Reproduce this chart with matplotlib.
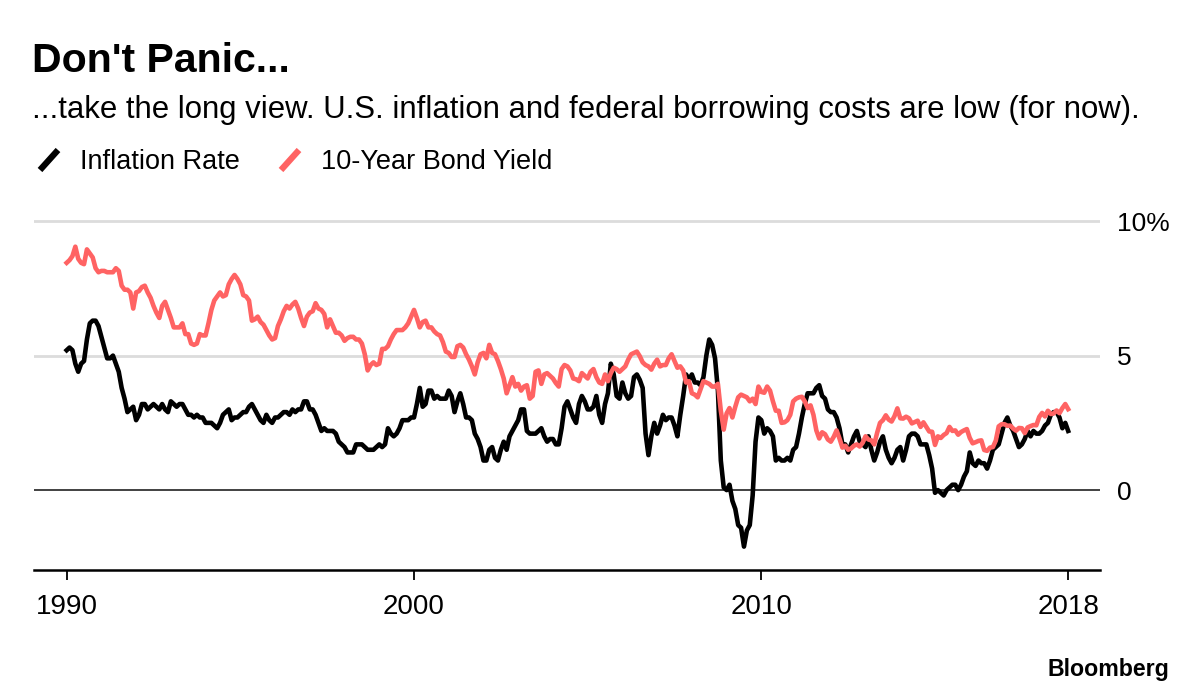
import matplotlib

matplotlib.use("Agg")
import matplotlib.pyplot as plt
import numpy as np
from matplotlib.lines import Line2D

plt.rcParams["font.family"] = ["Liberation Sans", "DejaVu Sans"]

# Monthly values, Jan 1990 .. Nov 2018 (one row per year)
inflation_rate = [
    5.2, 5.3, 5.2, 4.7, 4.4, 4.7, 4.8, 5.6, 6.2, 6.3, 6.3, 6.1,
    5.7, 5.3, 4.9, 4.9, 5.0, 4.7, 4.4, 3.8, 3.4, 2.9, 3.0, 3.1,
    2.6, 2.8, 3.2, 3.2, 3.0, 3.1, 3.2, 3.1, 3.0, 3.2, 3.0, 2.9,
    3.3, 3.2, 3.1, 3.2, 3.2, 3.0, 2.8, 2.8, 2.7, 2.8, 2.7, 2.7,
    2.5, 2.5, 2.5, 2.4, 2.3, 2.5, 2.8, 2.9, 3.0, 2.6, 2.7, 2.7,
    2.8, 2.9, 2.9, 3.1, 3.2, 3.0, 2.8, 2.6, 2.5, 2.8, 2.6, 2.5,
    2.7, 2.7, 2.8, 2.9, 2.9, 2.8, 3.0, 2.9, 3.0, 3.0, 3.3, 3.3,
    3.0, 3.0, 2.8, 2.5, 2.2, 2.3, 2.2, 2.2, 2.2, 2.1, 1.8, 1.7,
    1.6, 1.4, 1.4, 1.4, 1.7, 1.7, 1.7, 1.6, 1.5, 1.5, 1.5, 1.6,
    1.7, 1.6, 1.7, 2.3, 2.1, 2.0, 2.1, 2.3, 2.6, 2.6, 2.6, 2.7,
    2.7, 3.2, 3.8, 3.1, 3.2, 3.7, 3.7, 3.4, 3.5, 3.4, 3.4, 3.4,
    3.7, 3.5, 2.9, 3.3, 3.6, 3.2, 2.7, 2.7, 2.6, 2.1, 1.9, 1.6,
    1.1, 1.1, 1.5, 1.6, 1.2, 1.1, 1.5, 1.8, 1.5, 2.0, 2.2, 2.4,
    2.6, 3.0, 3.0, 2.2, 2.1, 2.1, 2.1, 2.2, 2.3, 2.0, 1.8, 1.9,
    1.9, 1.7, 1.7, 2.3, 3.1, 3.3, 3.0, 2.7, 2.5, 3.2, 3.5, 3.3,
    3.0, 3.0, 3.1, 3.5, 2.8, 2.5, 3.2, 3.6, 4.7, 4.3, 3.5, 3.4,
    4.0, 3.6, 3.4, 3.5, 4.2, 4.3, 4.1, 3.8, 2.1, 1.3, 2.0, 2.5,
    2.1, 2.4, 2.8, 2.6, 2.7, 2.7, 2.4, 2.0, 2.8, 3.5, 4.3, 4.1,
    4.3, 4.0, 4.0, 3.9, 4.2, 5.0, 5.6, 5.4, 4.9, 3.7, 1.1, 0.1,
    0.0, 0.2, -0.4, -0.7, -1.3, -1.4, -2.1, -1.5, -1.3, -0.2, 1.8, 2.7,
    2.6, 2.1, 2.3, 2.2, 2.0, 1.1, 1.2, 1.1, 1.1, 1.2, 1.1, 1.5,
    1.6, 2.1, 2.7, 3.2, 3.6, 3.6, 3.6, 3.8, 3.9, 3.5, 3.4, 3.0,
    2.9, 2.9, 2.7, 2.3, 1.7, 1.7, 1.4, 1.7, 2.0, 2.2, 1.8, 1.7,
    1.6, 2.0, 1.5, 1.1, 1.4, 1.8, 2.0, 1.5, 1.2, 1.0, 1.2, 1.5,
    1.6, 1.1, 1.5, 2.0, 2.1, 2.1, 2.0, 1.7, 1.7, 1.7, 1.3, 0.8,
    -0.1, 0.0, -0.1, -0.2, 0.0, 0.1, 0.2, 0.2, 0.0, 0.2, 0.5, 0.7,
    1.4, 1.0, 0.9, 1.1, 1.0, 1.0, 0.8, 1.1, 1.5, 1.6, 1.7, 2.1,
    2.5, 2.7, 2.4, 2.2, 1.9, 1.6, 1.7, 1.9, 2.2, 2.0, 2.2, 2.1,
    2.1, 2.2, 2.4, 2.5, 2.8, 2.9, 2.9, 2.7, 2.3, 2.5, 2.2,
]

bond_yield = [
    8.45, 8.55, 8.70, 9.05, 8.60, 8.45, 8.40, 8.95, 8.80, 8.65, 8.25, 8.10,
    8.15, 8.15, 8.10, 8.10, 8.10, 8.25, 8.15, 7.60, 7.45, 7.45, 7.35, 6.75,
    7.35, 7.40, 7.55, 7.60, 7.35, 7.15, 6.85, 6.60, 6.40, 6.85, 7.00, 6.70,
    6.40, 6.05, 6.05, 6.05, 6.20, 5.80, 5.80, 5.45, 5.40, 5.45, 5.80, 5.75,
    5.75, 6.20, 6.70, 7.05, 7.20, 7.35, 7.20, 7.25, 7.65, 7.85, 8.00, 7.85,
    7.65, 7.25, 7.20, 7.05, 6.30, 6.35, 6.45, 6.25, 6.15, 5.95, 5.75, 5.60,
    5.65, 6.10, 6.35, 6.65, 6.85, 6.75, 6.90, 7.00, 6.75, 6.40, 6.10, 6.45,
    6.60, 6.65, 6.95, 6.75, 6.70, 6.55, 6.05, 6.35, 6.10, 5.85, 5.85, 5.75,
    5.55, 5.65, 5.70, 5.70, 5.60, 5.60, 5.45, 5.05, 4.45, 4.65, 4.75, 4.65,
    4.70, 5.25, 5.25, 5.35, 5.60, 5.80, 5.95, 5.95, 5.95, 6.05, 6.20, 6.45,
    6.70, 6.40, 6.05, 6.25, 6.30, 6.05, 6.05, 5.90, 5.80, 5.75, 5.50, 5.15,
    5.10, 4.95, 4.95, 5.35, 5.40, 5.30, 5.05, 4.85, 4.60, 4.30, 4.75, 5.05,
    5.10, 4.90, 5.40, 5.10, 5.05, 4.80, 4.50, 4.15, 3.60, 3.90, 4.20, 3.85,
    3.95, 3.70, 3.85, 3.90, 3.40, 3.50, 4.40, 4.45, 3.95, 4.30, 4.35, 4.25,
    4.15, 3.98, 3.85, 4.50, 4.65, 4.60, 4.45, 4.15, 4.12, 4.05, 4.35, 4.25,
    4.15, 4.40, 4.50, 4.20, 4.00, 3.95, 4.30, 4.05, 4.35, 4.55, 4.50, 4.40,
    4.50, 4.60, 4.85, 5.05, 5.10, 5.15, 4.98, 4.75, 4.65, 4.60, 4.48, 4.70,
    4.85, 4.60, 4.65, 4.65, 4.90, 5.05, 4.80, 4.55, 4.60, 4.45, 4.00, 4.05,
    3.60, 3.55, 3.45, 3.75, 4.05, 4.00, 3.95, 3.85, 3.85, 3.95, 2.95, 2.25,
    2.85, 3.05, 2.70, 3.10, 3.45, 3.55, 3.50, 3.45, 3.30, 3.40, 3.20, 3.85,
    3.65, 3.62, 3.85, 3.70, 3.30, 2.95, 2.95, 2.50, 2.52, 2.60, 2.80, 3.30,
    3.40, 3.45, 3.47, 3.30, 3.05, 3.15, 2.80, 2.22, 1.92, 2.15, 2.08, 1.88,
    1.80, 1.98, 2.22, 1.92, 1.58, 1.65, 1.50, 1.55, 1.65, 1.70, 1.62, 1.76,
    2.00, 1.88, 1.85, 1.70, 2.13, 2.50, 2.60, 2.78, 2.62, 2.55, 2.75, 3.04,
    2.67, 2.66, 2.73, 2.67, 2.48, 2.53, 2.58, 2.35, 2.52, 2.35, 2.18, 2.17,
    1.68, 2.00, 1.94, 2.05, 2.12, 2.35, 2.20, 2.22, 2.06, 2.16, 2.22, 2.27,
    1.94, 1.74, 1.78, 1.83, 1.85, 1.49, 1.46, 1.58, 1.60, 1.84, 2.37, 2.45,
    2.45, 2.39, 2.40, 2.29, 2.21, 2.31, 2.30, 2.12, 2.33, 2.38, 2.42, 2.41,
    2.72, 2.87, 2.74, 2.95, 2.83, 2.85, 2.96, 2.86, 3.05, 3.20, 3.01,
]

start_year = 1990
y_ticks = [0, 5, 10]
y_tick_labels = ["0", "5", "10%"]
x_tick_labels = ["1990", "2000", "2010", "2018"]

BLACK = "#000000"
RED = "#ff6363"
GRID = "#dcdcdc"

W, H = 1200, 694
dates = start_year + np.arange(len(inflation_rate)) / 12.0


def fx(px):
    return px / W


def fy(py):
    return 1 - py / H


fig = plt.figure(figsize=(W / 100, H / 100), dpi=100)
ax = fig.add_axes([fx(34), fy(570), fx(1100) - fx(34), fy(205) - fy(570)])

for level in (5, 10):
    ax.axhline(level, color=GRID, linewidth=2.0, zorder=1)
ax.axhline(0, color="#333333", linewidth=1.3, zorder=1)

ax.plot(dates, inflation_rate, color=BLACK, linewidth=3.3, solid_joinstyle="round", zorder=3)
ax.plot(dates, bond_yield, color=RED, linewidth=3.3, solid_joinstyle="round", zorder=4)

ax.set_xlim(1989.06, 2019.75)
ax.set_ylim(-2.97, 10.6)

ax.set_xticks([1990, 2000, 2010, dates[-1]])
ax.set_xticklabels(x_tick_labels)
ax.set_yticks(y_ticks)
ax.set_yticklabels(y_tick_labels)
ax.yaxis.tick_right()

for side in ("top", "left", "right"):
    ax.spines[side].set_visible(False)
ax.spines["bottom"].set_linewidth(1.8)
ax.tick_params(axis="x", length=7.5, width=1.3, pad=10, labelsize=20, color=BLACK)
ax.tick_params(axis="y", length=0, pad=12, labelsize=19)

# title block
fig.text(fx(32), fy(72), "Don't Panic...", fontsize=29.5, fontweight="bold", va="baseline")
fig.text(
    fx(32), fy(118),
    "...take the long view. U.S. inflation and federal borrowing costs are low (for now).",
    fontsize=22.4, va="baseline",
)

# legend
for (x0, color, label) in [(40, BLACK, "Inflation Rate"), (281, RED, "10-Year Bond Yield")]:
    fig.add_artist(Line2D([fx(x0), fx(x0 + 18)], [fy(170), fy(150)], color=color,
                          linewidth=4.5, solid_capstyle="butt"))
    fig.text(fx(x0 + 40), fy(169), label, fontsize=19.5, va="baseline")

fig.text(fx(1169), fy(676), "Bloomberg", fontsize=16.7, fontweight="bold", ha="right", va="baseline")

fig.savefig("out.png", dpi=100)
